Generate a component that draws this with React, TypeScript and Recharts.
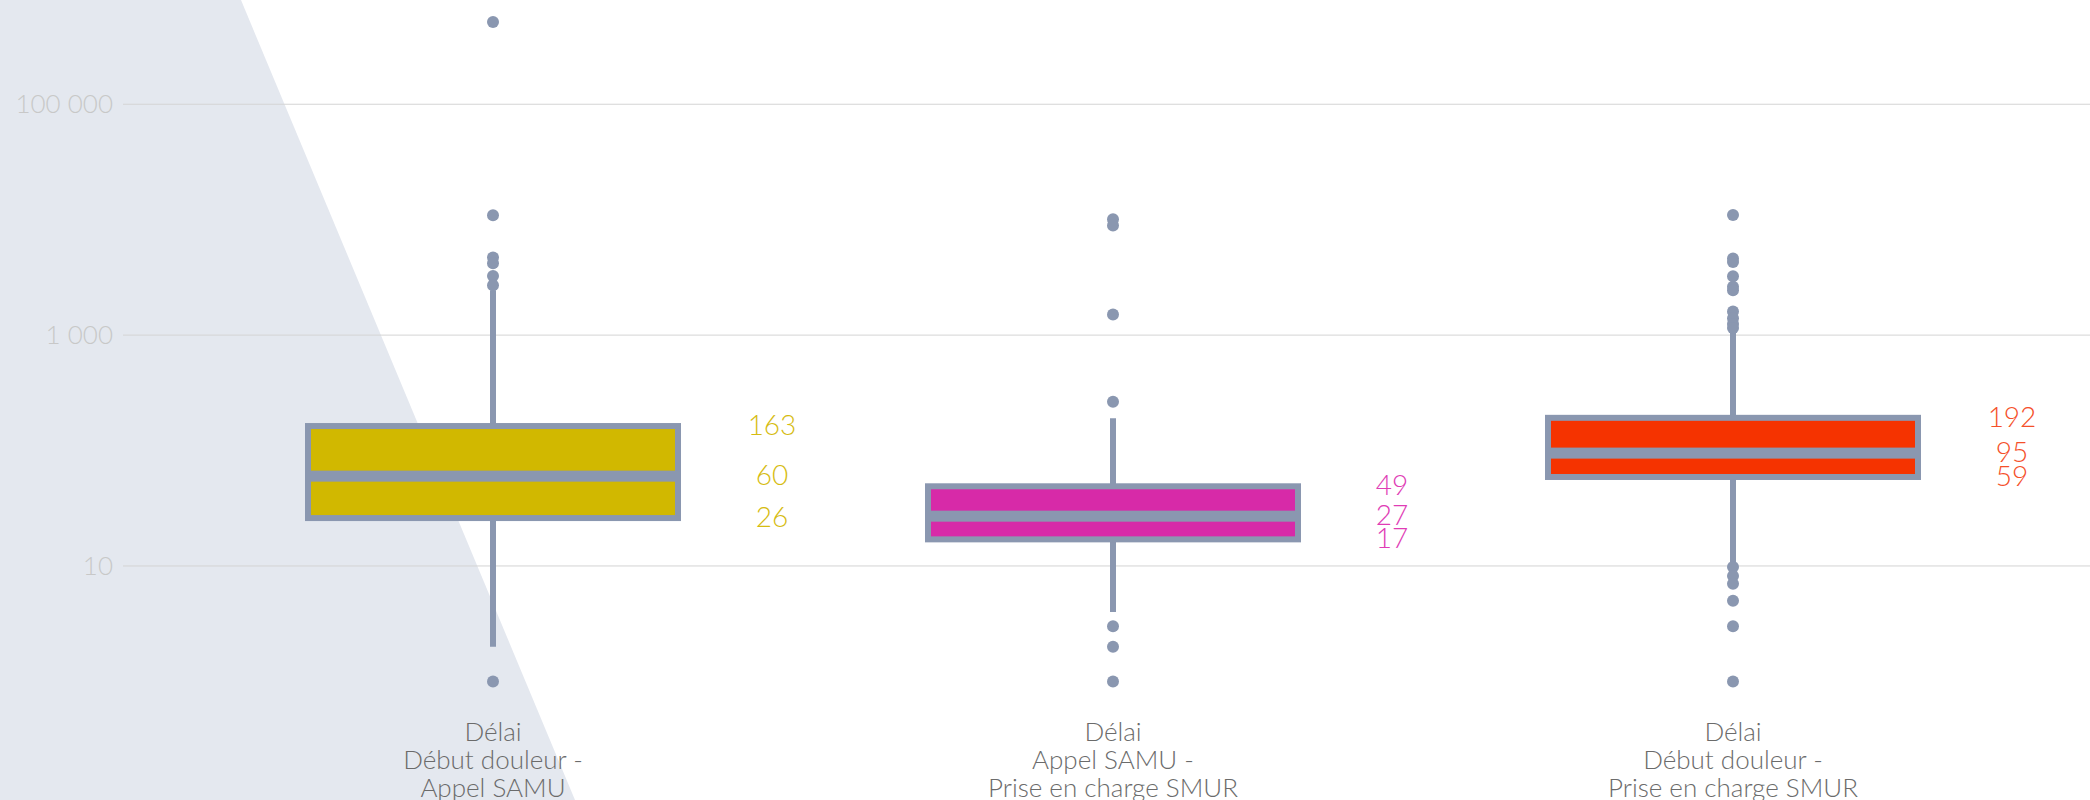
import { ComposedChart, Bar, Scatter, Cell, XAxis, YAxis, CartesianGrid } from 'recharts'

const CATEGORIES = [
  'Délai\nDébut douleur -\nAppel SAMU',
  'Délai\nAppel SAMU -\nPrise en charge SMUR',
  'Délai\nDébut douleur -\nPrise en charge SMUR',
]
const Q1 = [26, 17, 59]
const MEDIAN = [60, 27, 95]
const Q3 = [163, 49, 192]
const WHISKER_LOW = [2, 4, 10]
const WHISKER_HIGH = [2450, 190, 1070]
const OUTLIERS = [
  [516000, 10900, 4700, 4200, 3250, 2700, 1],
  [10100, 8900, 1510, 265, 3, 2, 1],
  [11000, 4600, 4300, 3240, 2620, 2450, 1600, 1400, 1250, 1150, 9.8, 8.2, 7, 5, 3, 1],
]
const Y_TICKS = [10, 1000, 100000]

const BOX_COLORS = ['#d1b800', '#d72aa8', '#f53300']
const LABEL_COLORS = ['#d6bc12', '#e03cb5', '#f5502a']
const GRAY = '#8a97b0'
const FONT = "Lato, 'Open Sans', sans-serif"

const rows = CATEGORIES.map((name, i) => ({
  name,
  box: [Q1[i], Q3[i]],
  whisker: [WHISKER_LOW[i], WHISKER_HIGH[i]],
  q1: Q1[i],
  median: MEDIAN[i],
  q3: Q3[i],
}))

const outlierPoints = OUTLIERS.flatMap((vals, i) => vals.map((value) => ({ name: CATEGORIES[i], value })))

const fmt = (v: number) => String(v).replace(/\B(?=(\d{3})+(?!\d))/g, ' ')

function CategoryTick({ x, y, payload }: any) {
  const lines = String(payload.value).split('\n')
  return (
    <text x={x} y={y} textAnchor="middle" fill="#6b6b6b" fontSize={26} fontWeight={300} fontFamily={FONT}>
      {lines.map((l, i) => (
        <tspan key={i} x={x} y={y + 34 + i * 28}>
          {l}
        </tspan>
      ))}
    </text>
  )
}

function BoxShape(props: any) {
  const { x, y, width, height, fill } = props
  return <rect x={x} y={y} width={width} height={height} fill={fill} stroke={GRAY} strokeWidth={6} />
}

function MedianShape({ cx, cy }: any) {
  return <rect x={cx - 185} y={cy - 5.5} width={370} height={11} fill={GRAY} />
}

function statLabel(key: 'q1' | 'median' | 'q3') {
  return ({ cx, cy, payload }: any) => {
    const i = CATEGORIES.indexOf(payload.name)
    return (
      <text x={cx + 279} y={cy} dy={9} textAnchor="middle" fill={LABEL_COLORS[i]} fontSize={28} fontWeight={300} fontFamily={FONT}>
        {payload[key]}
      </text>
    )
  }
}

function Dot({ cx, cy }: any) {
  return <circle cx={cx} cy={cy} r={6} fill={GRAY} />
}

export default function App() {
  return (
    <div style={{ position: 'absolute', left: 0, top: 0, width: 2090, height: 800, background: '#fff', overflow: 'hidden' }}>
      <div
        style={{
          position: 'absolute',
          inset: 0,
          background: '#e4e8ef',
          clipPath: 'polygon(0 0, 241px 0, 575px 800px, 0 800px)',
        }}
      />
      <div style={{ position: 'relative' }}>
        <ComposedChart width={2090} height={800} data={rows} margin={{ top: 0, right: 0, bottom: 0, left: 0 }} style={{ fontFamily: FONT }}>
          <CartesianGrid vertical={false} stroke="#d4d4d4" xAxisId="main" horizontalValues={Y_TICKS} />
          <XAxis
            xAxisId="main"
            dataKey="name"
            type="category"
            allowDuplicatedCategory={false}
            height={93}
            padding={{ left: 60, right: 47 }}
            axisLine={false}
            tickLine={false}
            tickSize={0}
            tickMargin={0}
            interval={0}
            tick={<CategoryTick />}
          />
          <XAxis xAxisId="w" dataKey="name" type="category" allowDuplicatedCategory={false} height={93} padding={{ left: 60, right: 47 }} hide />
          <YAxis
            scale="log"
            domain={[0.6, 800000]}
            ticks={Y_TICKS}
            allowDataOverflow
            width={123}
            axisLine={false}
            tickLine={false}
            tickSize={0}
            tickMargin={10}
            tickFormatter={fmt}
            tick={{ fill: '#c8c8c8', fontSize: 26, fontWeight: 300, fontFamily: FONT }}
          />
          <Bar xAxisId="w" dataKey="whisker" barSize={6} fill={GRAY} isAnimationActive={false} />
          <Bar xAxisId="main" dataKey="box" barSize={370} shape={<BoxShape />} isAnimationActive={false}>
            {rows.map((_, i) => (
              <Cell key={`box-${i}`} fill={BOX_COLORS[i]} />
            ))}
          </Bar>
          <Scatter xAxisId="main" dataKey="median" shape={<MedianShape />} isAnimationActive={false} />
          <Scatter xAxisId="main" data={outlierPoints} dataKey="value" shape={<Dot />} isAnimationActive={false} />
          <Scatter xAxisId="main" dataKey="q3" shape={statLabel('q3')} isAnimationActive={false} />
          <Scatter xAxisId="main" dataKey="median" shape={statLabel('median')} isAnimationActive={false} />
          <Scatter xAxisId="main" dataKey="q1" shape={statLabel('q1')} isAnimationActive={false} />
        </ComposedChart>
      </div>
    </div>
  )
}
